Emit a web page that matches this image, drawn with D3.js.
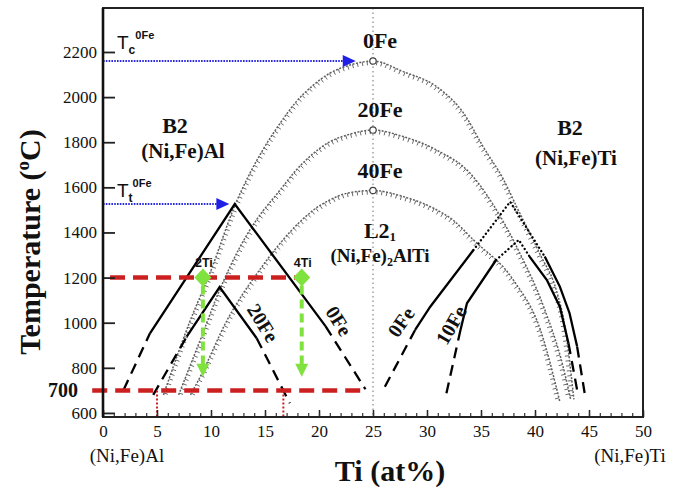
<!DOCTYPE html>
<html>
<head>
<meta charset="utf-8">
<script src="https://cdn.jsdelivr.net/npm/d3@7"></script>
<style>
  body { margin: 0; background: #fff; }
  text { font-family: "Liberation Serif", "Times New Roman", serif; fill: #111; }
</style>
</head>
<body>
<svg id="chart" width="686" height="490"></svg>
<script>
// ---- values (x = Ti at%, T = degC) ----
const xMajor = [0, 5, 10, 15, 20, 25, 30, 35, 40, 45, 50];
const xMinor = d3.range(0, 51, 1);
const yTicks = [600, 800, 1000, 1200, 1400, 1600, 1800, 2000, 2200];

// order-disorder (B2 <-> L2_1) curves
const fe0X  = [5.6, 8.0, 9.9, 12.3, 13.6, 14.8, 16.4, 17.9, 19.5, 21.0, 22.6, 25, 27.8, 30.9, 33.4, 35.2, 37.1, 38.3, 40.5, 42.0, 42.8, 43.6];
const fe0T  = [680, 1000, 1220, 1530, 1662, 1766, 1884, 1980, 2054, 2106, 2138, 2160, 2113, 2046, 1928, 1780, 1633, 1514, 1300, 1140, 975, 660];
const fe20X = [7.0, 9.0, 10.8, 12.7, 14.2, 16.4, 17.9, 19.5, 21.0, 22.6, 25, 27.8, 30.9, 34.0, 36.3, 38.6, 40.8, 42.6, 43.3];
const fe20T = [680, 923, 1145, 1337, 1455, 1588, 1677, 1751, 1802, 1832, 1854, 1825, 1765, 1662, 1510, 1308, 1071, 805, 660];
const fe40X = [8.1, 9.0, 11.5, 14.5, 18.3, 19.5, 21.0, 22.6, 25, 27.8, 30.9, 32.4, 34.3, 38.0, 40.5, 42.3];
const fe40T = [680, 760, 1012, 1234, 1450, 1500, 1544, 1574, 1586, 1559, 1500, 1455, 1367, 1189, 968, 650];
const peakT = [2160, 1854, 1586];
const peakLabels = ['0Fe', '20Fe', '40Fe'];

// phase boundaries (black), split by line style
const al0Solid   = [[4.35, 953], [12.2, 1526], [20.6, 985]];
const al0Dash    = [[[1.9, 702], [4.35, 953]], [[20.6, 985], [24.3, 705]]];
const al20Solid  = [[7.75, 938], [10.8, 1158], [14.23, 931]];
const al20Dash   = [[[4.65, 680], [7.75, 938]], [[14.23, 931], [17.3, 643]]];
const ti0Solid   = [[[28.9, 968], [30.3, 1071], [34.3, 1322]], [[40.9, 1293], [42.3, 1160], [43.2, 1042], [43.9, 894]]];
const ti0Dot     = [[34.3, 1322], [37.7, 1536], [40.9, 1293]];
const ti0Dash    = [[[26.1, 716], [28.9, 968]], [[43.9, 894], [44.6, 687]]];
const ti10Solid  = [[[33.1, 968], [33.7, 1086], [36.4, 1278]], [[39.5, 1293], [41.1, 1189], [42.3, 1071], [43.1, 909]]];
const ti10Dot    = [[36.4, 1278], [38.5, 1367], [39.5, 1293]];
const ti10Dash   = [[[31.8, 687], [33.1, 968]], [[43.1, 909], [43.9, 702]]];

// annotations
const tcT = 2160, tcArrowEnd = 23.4;
const ttT = 1526, ttArrowEnd = 11.7;
const redLevels = [{ T: 1200, x0: 0.65, x1: 17.8 }, { T: 700, x0: -1.0, x1: 24.3 }];
const redDropX = [5.0, 16.7];
const tiMarkX = [9.25, 18.4];
const tiMarkLabels = ['2Ti', '4Ti'];
const tiMarkFrom = 1200, tiMarkTo = 760;

// ---- chart ----
const svg = d3.select('#chart');
const x = d3.scaleLinear().domain([0, 50]).range([103, 643]);
const y = d3.scaleLinear().domain([582, 2395]).range([417, 8]);
const g = svg.append('g');

const smooth = d3.line().x(d => x(d[0])).y(d => y(d[1])).curve(d3.curveMonotoneX);
const straight = d3.line().x(d => x(d[0])).y(d => y(d[1]));
const zip = (a, b) => a.map((v, i) => [v, b[i]]);

// vertical guide at stoichiometric 25 at%
g.append('line')
  .attr('x1', x(25)).attr('x2', x(25)).attr('y1', y(2395)).attr('y2', y(582))
  .attr('stroke', '#888').attr('stroke-width', 1.2).attr('stroke-dasharray', '1.5,3');

// gray hatched curves
function hatched(pts) {
  const p = g.append('path').datum(pts).attr('d', smooth)
    .attr('fill', 'none').attr('stroke', '#5e5e5e').attr('stroke-width', 1.5)
    .attr('stroke-dasharray', '2,1.5');
  const node = p.node(), L = node.getTotalLength();
  for (let s = 2; s < L - 1; s += 5) {
    const a = node.getPointAtLength(s), b = node.getPointAtLength(s + 0.8);
    const n = Math.hypot(b.x - a.x, b.y - a.y) || 1;
    let nx = -(b.y - a.y) / n, ny = (b.x - a.x) / n;
    if (ny < 0) { nx = -nx; ny = -ny; }
    g.append('line')
      .attr('x1', a.x).attr('y1', a.y).attr('x2', a.x + nx * 4).attr('y2', a.y + ny * 4)
      .attr('stroke', '#6a6a6a').attr('stroke-width', 1);
  }
}
hatched(zip(fe0X, fe0T));
hatched(zip(fe20X, fe20T));
hatched(zip(fe40X, fe40T));

peakT.forEach((t, i) => {
  g.append('circle').attr('cx', x(25)).attr('cy', y(t)).attr('r', 3.2)
    .attr('fill', '#fff').attr('stroke', '#444').attr('stroke-width', 1.2);
  g.append('text').attr('x', x(25) + 7).attr('y', y(t) - 13).attr('text-anchor', 'middle')
    .attr('font-size', 22).attr('font-weight', 'bold').text(peakLabels[i]);
});

// black boundaries
function seg(pts, dash) {
  g.append('path').datum(pts).attr('d', straight).attr('fill', 'none')
    .attr('stroke', '#000').attr('stroke-width', 2.3)
    .attr('stroke-linecap', dash === 'dot' ? 'round' : 'butt')
    .attr('stroke-linejoin', 'miter')
    .attr('stroke-dasharray', dash === 'dash' ? '11,7' : dash === 'dot' ? '0.1,4' : null);
}
seg(al0Solid); al0Dash.forEach(d => seg(d, 'dash'));
seg(al20Solid); al20Dash.forEach(d => seg(d, 'dash'));
ti0Solid.forEach(d => seg(d)); seg(ti0Dot, 'dot'); ti0Dash.forEach(d => seg(d, 'dash'));
ti10Solid.forEach(d => seg(d)); seg(ti10Dot, 'dot'); ti10Dash.forEach(d => seg(d, 'dash'));

// red dashed temperature levels and dotted drops
const red = '#cc2020';
redLevels.forEach(r => {
  g.append('line').attr('x1', x(r.x0)).attr('x2', x(r.x1)).attr('y1', y(r.T)).attr('y2', y(r.T))
    .attr('stroke', red).attr('stroke-width', 4.5).attr('stroke-dasharray', '15,8');
});
redDropX.forEach(v => {
  g.append('line').attr('x1', x(v)).attr('x2', x(v)).attr('y1', y(700)).attr('y2', y(582))
    .attr('stroke', red).attr('stroke-width', 2).attr('stroke-dasharray', '2,2');
});

// green markers with arrows
const green = '#7fe23e';
tiMarkX.forEach((v, i) => {
  const cx = x(v), top = y(tiMarkFrom), tip = y(tiMarkTo);
  g.append('line').attr('x1', cx).attr('x2', cx).attr('y1', top + 8).attr('y2', tip - 12)
    .attr('stroke', green).attr('stroke-width', 4).attr('stroke-dasharray', '9,5');
  g.append('path').attr('d', `M${cx - 6.5},${tip - 13}L${cx + 6.5},${tip - 13}L${cx},${tip}Z`).attr('fill', green);
  g.append('path').attr('d', `M${cx},${top - 9}L${cx + 8.5},${top}L${cx},${top + 9}L${cx - 8.5},${top}Z`).attr('fill', green);
  g.append('text').attr('x', cx + 1).attr('y', top - 11).attr('text-anchor', 'middle')
    .style('font-family', '"Liberation Sans Narrow","Liberation Sans",sans-serif')
    .attr('font-size', 12.5).attr('font-weight', 'bold').text(tiMarkLabels[i]);
});

// blue dotted arrows for Tc and Tt
[[tcT, tcArrowEnd], [ttT, ttArrowEnd]].forEach(([t, xe]) => {
  const yy = y(t), xt = x(xe);
  g.append('line').attr('x1', x(0)).attr('x2', xt - 11).attr('y1', yy).attr('y2', yy)
    .attr('stroke', '#2a2ae0').attr('stroke-width', 2).attr('stroke-dasharray', '1.6,1.2');
  g.append('path').attr('d', `M${xt - 13},${yy - 6}L${xt},${yy}L${xt - 13},${yy + 6}Z`).attr('fill', '#1f1fe6');
});

// axes
const yAxis = d3.axisLeft(y).tickValues(yTicks).tickSize(-12).tickPadding(6).tickFormat(d3.format('d'));
const ya = svg.append('g').attr('transform', `translate(${x(0)},0)`).call(yAxis);
ya.attr('font-family', null);
ya.select('.domain').remove();
ya.selectAll('line').attr('stroke', '#222').attr('stroke-width', 1.8);
ya.selectAll('text').attr('font-size', 17).style('font-family', '"Liberation Serif",serif');

const xa = svg.append('g').attr('transform', `translate(0,${y(582)})`)
  .call(d3.axisBottom(x).tickValues(xMajor).tickSize(-7).tickPadding(8));
xa.attr('font-family', null);
xa.select('.domain').remove();
xa.selectAll('line').attr('stroke', '#222').attr('stroke-width', 1.5);
xa.selectAll('text').attr('font-size', 17).style('font-family', '"Liberation Serif",serif');
const xm = svg.append('g').attr('transform', `translate(0,${y(582)})`)
  .call(d3.axisBottom(x).tickValues(xMinor).tickSize(-4).tickFormat(''));
xm.select('.domain').remove();
xm.selectAll('line').attr('stroke', '#333').attr('stroke-width', 1.2);

// frame
svg.append('rect').attr('x', x(0)).attr('y', y(2395)).attr('width', x(50) - x(0)).attr('height', y(582) - y(2395))
  .attr('fill', 'none').attr('stroke', '#222').attr('stroke-width', 2);
svg.append('line').attr('x1', x(0)).attr('x2', x(0)).attr('y1', y(2395)).attr('y2', y(582))
  .attr('stroke', '#111').attr('stroke-width', 2.6);

// bold 700 marker label
svg.append('text').attr('x', 78).attr('y', y(700)).attr('dy', '0.35em').attr('text-anchor', 'end')
  .attr('font-size', 20).attr('font-weight', 'bold').text('700');

// axis titles
svg.append('text').attr('x', 390).attr('y', 481).attr('text-anchor', 'middle')
  .attr('font-size', 30).attr('font-weight', 'bold').text('Ti (at%)');
const yt = svg.append('text').attr('transform', 'translate(40,242) rotate(-90)').attr('text-anchor', 'middle')
  .attr('font-size', 30).attr('font-weight', 'bold');
yt.append('tspan').text('Temperature (');
yt.append('tspan').attr('font-size', 19).attr('dy', -11).text('o');
yt.append('tspan').attr('dy', 11).text('C)');

svg.append('text').attr('x', 127).attr('y', 462).attr('text-anchor', 'middle').attr('font-size', 19).text('(Ni,Fe)Al');
svg.append('text').attr('x', 630).attr('y', 462).attr('text-anchor', 'middle').attr('font-size', 19).text('(Ni,Fe)Ti');

// phase labels
function label(px, py, s, size) {
  svg.append('text').attr('x', px).attr('y', py).attr('dy', '0.35em').attr('text-anchor', 'middle')
    .attr('font-size', size).attr('font-weight', 'bold').text(s);
}
label(175, 125, 'B2', 22);
label(183, 151, '(Ni,Fe)Al', 21);
label(570, 127, 'B2', 22);
label(576, 158, '(Ni,Fe)Ti', 21);
const l21 = svg.append('text').attr('x', 380).attr('y', 238).attr('text-anchor', 'middle').attr('font-size', 22).attr('font-weight', 'bold');
l21.append('tspan').text('L2');
l21.append('tspan').attr('font-size', 13).attr('dy', 3).text('1');
const nfa = svg.append('text').attr('x', 380).attr('y', 262).attr('text-anchor', 'middle').attr('font-size', 19).attr('font-weight', 'bold');
nfa.append('tspan').text('(Ni,Fe)');
nfa.append('tspan').attr('font-size', 12).attr('dy', 4).text('2');
nfa.append('tspan').attr('dy', -4).text('AlTi');

// labels along boundaries
function rot(px, py, a, s) {
  svg.append('text').attr('transform', `translate(${px},${py}) rotate(${a})`).attr('dy', '0.35em')
    .attr('text-anchor', 'middle').attr('font-size', 20).attr('font-weight', 'bold').text(s);
}
rot(263, 323, 58, '20Fe');
rot(339, 321, 58, '0Fe');
rot(401, 322, -55, '0Fe');
rot(451, 325, -60, '10Fe');

// Tc / Tt labels
function tLabel(py, sub) {
  const t = svg.append('text').attr('x', 117).attr('y', py)
    .style('font-family', '"Liberation Sans",Arial,sans-serif').attr('font-size', 19);
  t.append('tspan').text('T');
  t.append('tspan').attr('font-size', 12).attr('font-weight', 'bold').attr('dy', 5).text(sub);
  t.append('tspan').attr('font-size', 11).attr('font-weight', 'bold').attr('dy', -15).text('0Fe');
}
tLabel(49, 'c');
tLabel(197, 't');
</script>
</body>
</html>
